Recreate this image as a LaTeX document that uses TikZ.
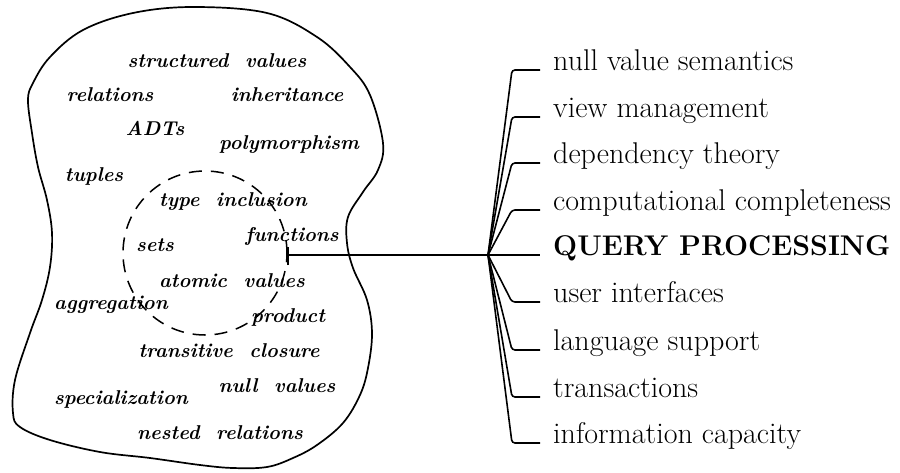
\documentclass[tikz,border=0pt]{standalone}
\usepackage{fontspec}
\begin{document}
\begin{tikzpicture}[x=1pt,y=-1pt,
  concept/.style={anchor=base,inner sep=0pt,font=\fontsize{20}{23}\selectfont\bfseries\itshape},
  topic/.style={anchor=base west,inner sep=0pt,font=\fontsize{30}{34}\selectfont},
  maintopic/.style={anchor=base west,inner sep=0pt,font=\fontsize{28.5}{32}\selectfont\bfseries},
  wire/.style={line width=1.6pt,rounded corners=3pt},
  outline/.style={line width=1.7pt},
  dashcircle/.style={line width=1.5pt,dash pattern=on 13pt off 9pt}]
\useasboundingbox (0,0) rectangle (900,472);
% blob outline
\draw[outline] plot[smooth cycle,tension=0.6] coordinates {
 (193,7) (267,13) (317,37) (350,67) (370,95) (383,143) (378,170) (363,192)
 (348,217) (347,243) (353,268) (367,300) (372,333) (368,368) (360,395) (343,423)
 (317,445) (293,458) (267,467) (233,468) (200,465) (150,458) (100,452) (50,440)
 (20,427) (13,413) (15,380) (30,333) (42,300) (50,267) (52,233) (47,200)
 (38,167) (32,133) (28,100) (33,83) (50,57) (83,30) (133,13)};
% dashed circle
\node[circle,draw,dashcircle,minimum size=164pt,inner sep=0pt] (inner) at (205,253) {};
% concepts
\node[concept] (c1) at (217,67) {structured\ \ values};
\node[concept] (c2) at (110,101) {relations};
\node[concept] (c3) at (287,101) {inheritance};
\node[concept] (c4) at (155,135) {ADTs};
\node[concept] (c5) at (289,149) {polymorphism};
\node[concept] (c6) at (94,181) {tuples};
\node[concept] (c7) at (233,206) {type\ \ inclusion};
\node[concept] (c8) at (292,241) {functions};
\node[concept] (c9) at (155,251) {sets};
\node[concept] (c10) at (232,287) {atomic\ \ values};
\node[concept] (c11) at (111,309) {aggregation};
\node[concept] (c12) at (288,322) {product};
\node[concept] (c13) at (229,357) {transitive\ \ closure};
\node[concept] (c14) at (277,392) {null\ \ values};
\node[concept] (c15) at (121,404) {specialization};
\node[concept] (c16) at (220,439) {nested\ \ relations};
% tick and hub
\coordinate (tick) at (288,255);
\coordinate (hub) at (488,255);
\draw[wire] ([yshift=-10pt]tick) -- ([yshift=8pt]tick);
% topics
\node[topic] (t1) at (553,70) {null value semantics};
\node[topic] (t2) at (553,117) {view management};
\node[topic] (t3) at (553,163) {dependency theory};
\node[topic] (t4) at (553,210) {computational completeness};
\node[maintopic] (t5) at (553,255) {QUERY PROCESSING};
\node[topic] (t6) at (553,302) {user interfaces};
\node[topic] (t7) at (553,350) {language support};
\node[topic] (t8) at (553,397) {transactions};
\node[topic] (t9) at (553,443) {information capacity};
\draw[wire] (tick) -- (hub) -- ([xshift=-13pt]t5.base west);
\foreach \t in {t1,t2,t3,t4,t6,t7,t8,t9}
  \draw[wire] (hub) -- ([xshift=-41pt]\t.base west) -- ([xshift=-13pt]\t.base west);
\end{tikzpicture}
\end{document}
